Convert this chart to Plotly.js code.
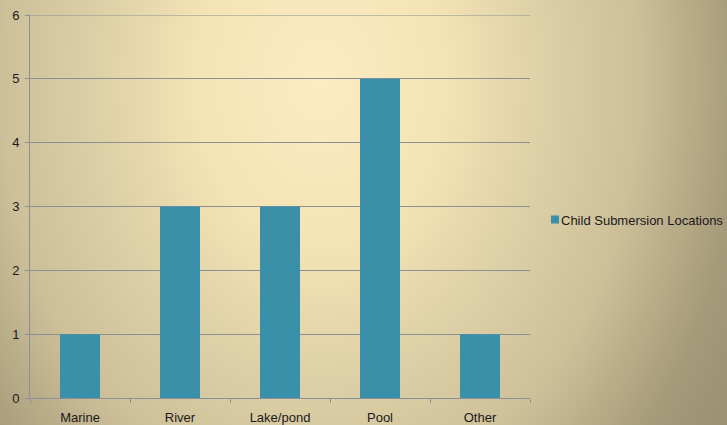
<!DOCTYPE html>
<html>
<head>
<meta charset="utf-8">
<script src="https://cdn.plot.ly/plotly-3.0.1.min.js"></script>
<style>
html,body{margin:0;padding:0;}
body{width:727px;height:425px;overflow:hidden;
background: radial-gradient(ellipse 420px 560px at 320px 80px, #fcecc1 0%, #f4e3b4 30%, #dccfa5 55%, #cdbf98 76%, #a59a7a 100%, #9a9072 115%);}
#chart{width:727px;height:425px;}
.legend .legendpoints path{transform:translate(34px,0) scale(0.67);}
</style>
</head>
<body>
<div id="chart"></div>
<script>
const categories = ["Marine", "River", "Lake/pond", "Pool", "Other"];
const values = [1, 3, 3, 5, 1];
const seriesName = "Child Submersion Locations";
const yMax = 6;

const trace = {
  type: "bar",
  x: categories,
  y: values,
  name: seriesName,
  marker: {color: "#3a90a9"},
  width: 0.4,
  showlegend: true
};

const axisColor = "#8a8f98";

const layout = {
  width: 727,
  height: 425,
  margin: {l: 30, r: 197, t: 15, b: 27, pad: 0, autoexpand: false},
  paper_bgcolor: "rgba(0,0,0,0)",
  plot_bgcolor: "rgba(0,0,0,0)",
  font: {family: "Liberation Sans, Arial, sans-serif", size: 13, color: "#1a1a1a"},
  showlegend: true,
  xaxis: {
    type: "category",
    tickson: "boundaries",
    ticks: "outside",
    ticklen: 4,
    tickcolor: axisColor,
    showline: true,
    linecolor: axisColor,
    linewidth: 1,
    showgrid: false,
    zeroline: false,
    ticklabelstandoff: 7,
    tickfont: {size: 13, color: "#1a1a1a"},
    fixedrange: true
  },
  yaxis: {
    range: [0, yMax],
    dtick: 1,
    ticks: "outside",
    ticklen: 4,
    tickcolor: axisColor,
    showline: true,
    linecolor: axisColor,
    linewidth: 1,
    showgrid: true,
    gridcolor: axisColor,
    gridwidth: 1,
    zeroline: false,
    ticklabelstandoff: 3,
    tickfont: {size: 13, color: "#1a1a1a"},
    fixedrange: true
  },
  shapes: [{
    type: "line", xref: "paper", yref: "y",
    x0: 0, x1: 1, y0: yMax, y1: yMax,
    line: {color: axisColor, width: 1}
  }],
  legend: {
    x: 0.982,
    xanchor: "left",
    y: 0.466,
    yanchor: "middle",
    bgcolor: "rgba(0,0,0,0)",
    font: {size: 13, color: "#1a1a1a"},
    itemwidth: 30
  }
};

Plotly.newPlot("chart", [trace], layout, {displayModeBar: false, staticPlot: true});
</script>
</body>
</html>
